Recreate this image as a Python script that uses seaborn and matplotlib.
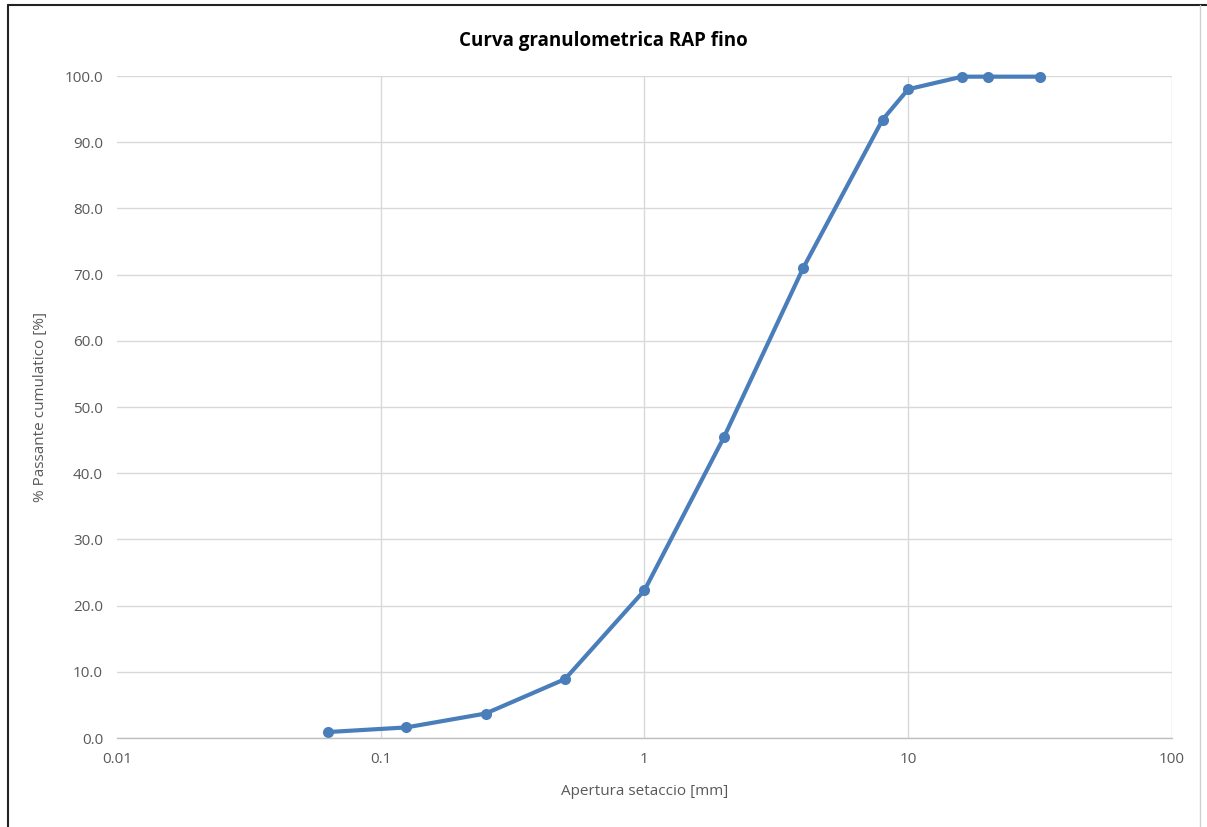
import pandas as pd
import seaborn as sns
import matplotlib.pyplot as plt
from matplotlib.lines import Line2D

# dati della curva granulometrica
apertura_mm = [0.063, 0.125, 0.25, 0.5, 1, 2, 4, 8, 10, 16, 20, 31.5]
passante = [0.9, 1.6, 3.7, 8.9, 22.3, 45.4, 71.0, 93.4, 98.0, 99.9, 99.9, 99.9]
y_ticks = [0, 10, 20, 30, 40, 50, 60, 70, 80, 90, 100]
x_ticks = [0.01, 0.1, 1, 10, 100]
x_labels = ['0.01', '0.1', '1', '10', '100']

df = pd.DataFrame({'apertura': apertura_mm, 'passante': passante})

sns.set_style('white')
plt.rcParams['font.family'] = ['Open Sans', 'DejaVu Sans']

fig = plt.figure(figsize=(12.07, 8.27), dpi=100)
ax = fig.add_axes([0.0969, 0.1076, 0.874, 0.8005])

blu = '#4a7ebb'
sns.lineplot(data=df, x='apertura', y='passante', ax=ax, color=blu,
             linewidth=3, marker='o', markersize=8, markeredgewidth=0)
for ln in ax.lines:
    ln.set_clip_on(False)

ax.set_xscale('log')
ax.set_xlim(0.01, 100)
ax.set_ylim(0, 100)
ax.set_xticks(x_ticks)
ax.set_xticklabels(x_labels)
ax.minorticks_off()
ax.set_yticks(y_ticks)
ax.set_yticklabels([f'{v:.1f}' for v in y_ticks])
ax.grid(True, color='#d9d9d9', linewidth=1)
ax.get_xgridlines()[0].set_visible(False)
ax.tick_params(axis='both', length=0, labelsize=11, colors='#595959', pad=10)
for s in ['top', 'right', 'left']:
    ax.spines[s].set_visible(False)
ax.spines['bottom'].set_color('#bfbfbf')
ax.spines['bottom'].set_linewidth(1)

ax.set_xlabel('Apertura setaccio [mm]', fontsize=11, color='#595959', labelpad=12)
ax.set_ylabel('% Passante cumulatico [%]', fontsize=11, color='#595959', labelpad=12)
fig.text(0.5, 0.951, 'Curva granulometrica RAP fino', ha='center', va='center',
         fontsize=13.5, fontweight='bold', color='black')

# cornice del grafico
fig.add_artist(Line2D([8 / 1207, 8 / 1207], [0, 1 - 5 / 827], color='#222222',
                      linewidth=1.5, transform=fig.transFigure))
fig.add_artist(Line2D([8 / 1207, 1], [1 - 5 / 827, 1 - 5 / 827], color='#222222',
                      linewidth=1.5, transform=fig.transFigure))
fig.add_artist(Line2D([1200 / 1207, 1200 / 1207], [0, 1 - 5 / 827], color='#d0d0d0',
                      linewidth=1, transform=fig.transFigure))

fig.savefig('out.png', dpi=100)
